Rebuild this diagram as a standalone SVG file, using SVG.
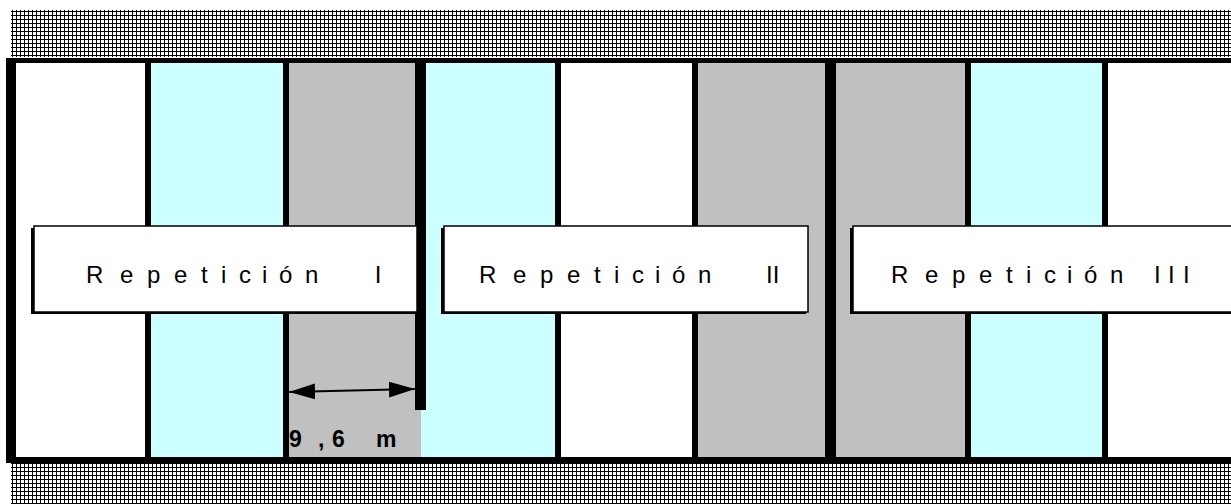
<svg xmlns="http://www.w3.org/2000/svg" width="1231" height="504" viewBox="0 0 1231 504">
<defs>
<pattern id="hatch" x="11" y="10" width="4" height="4" patternUnits="userSpaceOnUse">
<rect x="0" y="0" width="4" height="4" fill="#fff"/>
<rect x="1" y="0" width="1" height="4" fill="#000"/>
<rect x="0" y="1" width="4" height="1" fill="#000"/>
</pattern>
<marker id="ah" viewBox="0 0 26 16" refX="26" refY="8" markerWidth="26" markerHeight="16" markerUnits="userSpaceOnUse" orient="auto-start-reverse">
<path d="M0,0 L26,8 L0,16 z" fill="#000"/>
</marker>
<style>
.lbl{font-family:"Liberation Sans",Arial,sans-serif;font-size:24px;fill:#000}
.dim{font-family:"Liberation Sans",Arial,sans-serif;font-size:23px;font-weight:bold;fill:#000}
.box{fill:#fff;stroke:#000;stroke-width:1.5}
.shadow{fill:#000}
.wall{fill:#000}
</style>
</defs>
<rect width="1231" height="504" fill="#fff"/>
<rect x="11" y="10" width="1220" height="47" fill="url(#hatch)"/>
<rect x="11" y="463" width="1220" height="41" fill="url(#hatch)"/>
<g id="lanes">
<rect x="16" y="63" width="129" height="394" fill="#fff"/>
<rect x="151" y="63" width="132" height="394" fill="#ccffff"/>
<rect x="289" y="63" width="132" height="394" fill="#c0c0c0"/>
<rect x="421" y="63" width="134" height="394" fill="#ccffff"/>
<rect x="561" y="63" width="131" height="394" fill="#fff"/>
<rect x="698" y="63" width="127" height="394" fill="#c0c0c0"/>
<rect x="836" y="63" width="129" height="394" fill="#c0c0c0"/>
<rect x="971" y="63" width="131" height="394" fill="#ccffff"/>
<rect x="1108" y="63" width="123" height="394" fill="#fff"/>
</g>
<g id="walls">
<rect class="wall" x="6" y="58" width="1225" height="5"/>
<rect class="wall" x="6" y="457" width="1225" height="6"/>
<rect class="wall" x="6" y="58" width="10" height="405"/>
<rect class="wall" x="145" y="58" width="6" height="405"/>
<rect class="wall" x="283" y="58" width="6" height="405"/>
<rect class="wall" x="415" y="58" width="11" height="352"/>
<rect class="wall" x="555" y="58" width="6" height="405"/>
<rect class="wall" x="692" y="58" width="6" height="405"/>
<rect class="wall" x="825" y="58" width="11" height="405"/>
<rect class="wall" x="965" y="58" width="6" height="405"/>
<rect class="wall" x="1102" y="58" width="6" height="405"/>
</g>
<g id="rep1">
<rect class="shadow" x="31" y="228" width="384" height="86"/>
<rect class="box" x="34" y="226" width="383" height="86"/>
<text class="lbl" x="86 120 147 174 201 221 239 262 279 305 368" y="283">Repetición I</text>
</g>
<g id="rep2">
<rect class="shadow" x="441" y="228" width="365" height="86"/>
<rect class="box" x="444" y="226" width="364" height="86"/>
<text class="lbl" x="479 513 540 567 594 614 632 655 672 698 751 766" y="283">Repetición II</text>
</g>
<g id="rep3">
<rect class="shadow" x="850" y="228" width="390" height="86"/>
<rect class="box" x="853" y="226" width="390" height="86"/>
<text class="lbl" x="891 925 952 979 1006 1026 1044 1067 1084 1110 1140 1154 1168 1183" y="283">Repetición III</text>
</g>
<g id="connectors">
<line x1="289" y1="392" x2="415" y2="389" stroke="#000" stroke-width="2" marker-start="url(#ah)" marker-end="url(#ah)"/>
</g>
<g id="dimension">
<text class="dim" x="289 318 332 350 376" y="447">9,6 m</text>
</g>
</svg>
